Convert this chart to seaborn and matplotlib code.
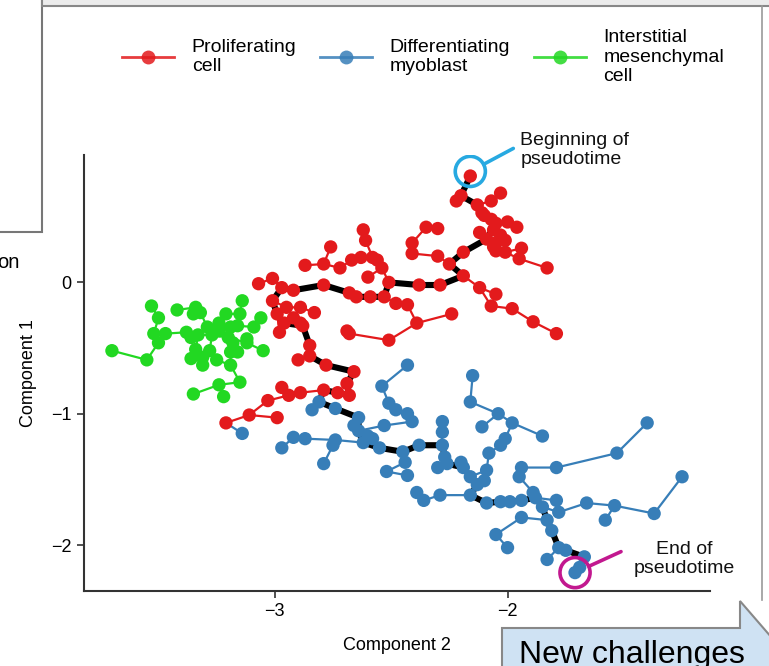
import pandas as pd
import seaborn as sns
import matplotlib.pyplot as plt
from matplotlib.lines import Line2D
from matplotlib.patches import Rectangle, Polygon

# main trajectory, from beginning to end of pseudotime
backbone_red = [(-2.16, 0.81), (-2.20, 0.66), (-2.13, 0.59), (-2.10, 0.51), (-2.05, 0.45),
                (-2.09, 0.33), (-2.19, 0.23), (-2.25, 0.14), (-2.19, 0.05), (-2.29, -0.02),
                (-2.38, -0.02), (-2.51, 0.00), (-2.53, -0.11), (-2.59, -0.11), (-2.65, -0.11),
                (-2.68, -0.08), (-2.79, -0.02), (-2.92, -0.06), (-2.97, -0.04), (-3.01, -0.14),
                (-2.99, -0.24), (-2.96, -0.31), (-2.88, -0.33), (-2.85, -0.48), (-2.85, -0.56),
                (-2.78, -0.63), (-2.66, -0.68), (-2.69, -0.77), (-2.68, -0.86), (-2.73, -0.84),
                (-2.79, -0.82)]
backbone_blue = [(-2.81, -0.91), (-2.74, -0.96), (-2.64, -1.03), (-2.64, -1.13), (-2.62, -1.22),
                 (-2.55, -1.26), (-2.45, -1.29), (-2.38, -1.24), (-2.28, -1.24), (-2.27, -1.33),
                 (-2.26, -1.38), (-2.19, -1.41), (-2.16, -1.48), (-2.13, -1.54), (-2.16, -1.62),
                 (-2.09, -1.68), (-2.03, -1.67), (-1.99, -1.67), (-1.94, -1.66), (-1.88, -1.64),
                 (-1.85, -1.71), (-1.83, -1.81), (-1.81, -1.89), (-1.78, -2.02), (-1.75, -2.04),
                 (-1.67, -2.09), (-1.69, -2.17), (-1.71, -2.21)]

# side branches of the tree, per cell type
red_branches = [
    [(-2.13, 0.59), (-2.07, 0.62), (-2.03, 0.68)],
    [(-2.05, 0.45), (-2.00, 0.46), (-1.96, 0.42)],
    [(-2.09, 0.33), (-2.12, 0.38)],
    [(-2.09, 0.33), (-2.05, 0.30), (-2.01, 0.32)],
    [(-2.09, 0.33), (-2.05, 0.24), (-2.01, 0.23), (-1.95, 0.18), (-1.83, 0.11)],
    [(-2.01, 0.23), (-1.94, 0.26)],
    [(-2.10, 0.51), (-2.07, 0.48), (-2.06, 0.40), (-2.03, 0.36)],
    [(-2.09, 0.33), (-2.06, 0.27)],
    [(-2.19, 0.05), (-2.12, -0.04), (-2.05, -0.09)],
    [(-2.12, -0.04), (-2.07, -0.18), (-1.98, -0.20), (-1.89, -0.30), (-1.79, -0.39)],
    [(-2.25, 0.14), (-2.30, 0.20), (-2.41, 0.22), (-2.41, 0.30), (-2.35, 0.42), (-2.30, 0.41)],
    [(-2.51, 0.00), (-2.54, 0.11), (-2.56, 0.17), (-2.58, 0.19), (-2.61, 0.32), (-2.62, 0.40)],
    [(-2.54, 0.11), (-2.60, 0.04)],
    [(-2.58, 0.19), (-2.63, 0.19), (-2.67, 0.17), (-2.72, 0.11), (-2.79, 0.14), (-2.87, 0.13)],
    [(-2.79, 0.14), (-2.76, 0.27)],
    [(-2.53, -0.11), (-2.48, -0.16), (-2.43, -0.17), (-2.39, -0.31), (-2.24, -0.24)],
    [(-2.39, -0.31), (-2.51, -0.44), (-2.68, -0.39), (-2.69, -0.37)],
    [(-2.97, -0.04), (-3.01, 0.03), (-3.07, -0.01)],
    [(-3.01, -0.14), (-2.95, -0.19), (-2.89, -0.19), (-2.83, -0.23)],
    [(-2.99, -0.24), (-2.98, -0.38)],
    [(-2.96, -0.31), (-2.92, -0.27), (-2.89, -0.31)],
    [(-2.85, -0.56), (-2.90, -0.59)],
    [(-2.79, -0.82), (-2.89, -0.84), (-2.94, -0.86), (-3.03, -0.90), (-3.11, -1.01), (-3.21, -1.07)],
    [(-2.94, -0.86), (-2.97, -0.80)],
    [(-3.11, -1.01), (-2.99, -1.03)],
    [(-2.20, 0.66), (-2.22, 0.62)],
    [(-2.13, 0.59), (-2.11, 0.53)],
]

blue_branches = [
    [(-2.62, -1.22), (-2.74, -1.20), (-2.87, -1.19), (-2.92, -1.18), (-2.97, -1.26)],
    [(-2.74, -1.20), (-2.75, -1.24), (-2.79, -1.38)],
    [(-2.64, -1.13), (-2.53, -1.09), (-2.41, -1.06), (-2.43, -1.00), (-2.48, -0.97),
     (-2.51, -0.92), (-2.54, -0.79), (-2.43, -0.63)],
    [(-2.45, -1.29), (-2.44, -1.37), (-2.52, -1.44)],
    [(-2.52, -1.44), (-2.43, -1.47)],
    [(-2.28, -1.24), (-2.28, -1.14), (-2.28, -1.06)],
    [(-2.16, -1.48), (-2.09, -1.43), (-2.08, -1.30), (-2.03, -1.24), (-2.01, -1.19),
     (-1.98, -1.07), (-2.04, -1.00), (-2.16, -0.91), (-2.15, -0.71)],
    [(-2.04, -1.00), (-2.11, -1.10)],
    [(-1.98, -1.07), (-1.85, -1.17)],
    [(-2.16, -1.62), (-2.29, -1.62), (-2.36, -1.66), (-2.39, -1.60)],
    [(-1.85, -1.71), (-1.78, -1.75), (-1.66, -1.68), (-1.54, -1.70), (-1.37, -1.76), (-1.25, -1.48)],
    [(-1.54, -1.70), (-1.58, -1.81)],
    [(-1.88, -1.64), (-1.79, -1.66)],
    [(-1.88, -1.64), (-1.89, -1.60), (-1.95, -1.48), (-1.94, -1.41), (-1.79, -1.41),
     (-1.53, -1.30), (-1.40, -1.07)],
    [(-1.83, -1.81), (-1.94, -1.79), (-2.05, -1.92), (-2.00, -2.02)],
    [(-1.78, -2.02), (-1.83, -2.11)],
    [(-2.64, -1.13), (-2.58, -1.19)],
    [(-2.64, -1.13), (-2.66, -1.09)],
    [(-2.62, -1.22), (-2.60, -1.17)],
    [(-2.81, -0.91), (-2.84, -0.97)],
    [(-3.21, -1.07), (-3.14, -1.15)],
    [(-2.26, -1.38), (-2.30, -1.41)],
    [(-2.19, -1.41), (-2.20, -1.37)],
    [(-2.13, -1.54), (-2.10, -1.51)],
]

green_branches = [
    [(-3.70, -0.52), (-3.55, -0.59), (-3.50, -0.46), (-3.47, -0.39)],
    [(-3.50, -0.46), (-3.52, -0.39), (-3.50, -0.27), (-3.53, -0.18)],
    [(-3.47, -0.39), (-3.38, -0.38), (-3.33, -0.40), (-3.27, -0.40), (-3.20, -0.42)],
    [(-3.42, -0.21), (-3.34, -0.19), (-3.32, -0.23), (-3.29, -0.34), (-3.27, -0.40)],
    [(-3.20, -0.42), (-3.24, -0.31), (-3.21, -0.24), (-3.15, -0.24), (-3.14, -0.14)],
    [(-3.20, -0.42), (-3.16, -0.33), (-3.09, -0.34), (-3.06, -0.27)],
    [(-3.20, -0.42), (-3.12, -0.46), (-3.05, -0.52)],
    [(-3.20, -0.42), (-3.18, -0.46), (-3.19, -0.53), (-3.19, -0.63), (-3.15, -0.76),
     (-3.24, -0.78), (-3.35, -0.85)],
    [(-3.24, -0.78), (-3.22, -0.87)],
    [(-3.33, -0.40), (-3.34, -0.51), (-3.36, -0.58)],
    [(-3.34, -0.51), (-3.31, -0.57), (-3.31, -0.63)],
    [(-3.27, -0.40), (-3.28, -0.52), (-3.25, -0.59), (-3.19, -0.63)],
    [(-3.18, -0.46), (-3.16, -0.53)],
    [(-3.33, -0.40), (-3.36, -0.42)],
    [(-3.32, -0.23), (-3.35, -0.24)],
    [(-3.20, -0.42), (-3.24, -0.37)],
    [(-3.20, -0.42), (-3.19, -0.34)],
    [(-3.12, -0.46), (-3.12, -0.43)],
]

cell_types = ["Proliferating\ncell", "Differentiating\nmyoblast", "Interstitial\nmesenchymal\ncell"]
palette = ["#E31A1C", "#377EB8", "#22D822"]


def branches_to_df(branches, cell):
    rows = []
    for i, br in enumerate(branches):
        for x, y in br:
            rows.append({"branch": f"{cell}_{i}", "x": x, "y": y, "cell": cell})
    return pd.DataFrame(rows)


edges = pd.concat([branches_to_df(red_branches, cell_types[0]),
                   branches_to_df(blue_branches, cell_types[1]),
                   branches_to_df(green_branches, cell_types[2])], ignore_index=True)
backbone = pd.DataFrame(backbone_red + backbone_blue, columns=["x", "y"])
cells = pd.concat([
    edges[["x", "y", "cell"]],
    pd.DataFrame([(x, y, cell_types[0]) for x, y in backbone_red], columns=["x", "y", "cell"]),
    pd.DataFrame([(x, y, cell_types[1]) for x, y in backbone_blue], columns=["x", "y", "cell"]),
]).drop_duplicates(subset=["x", "y"])

plt.rcParams["font.family"] = ["Liberation Sans", "DejaVu Sans"]
fig = plt.figure(figsize=(7.69, 6.66), dpi=100)
ax = fig.add_axes([84 / 769, 75 / 666, 626 / 769, 436 / 666])

pal = dict(zip(cell_types, palette))
sns.lineplot(data=edges, x="x", y="y", units="branch", hue="cell", palette=pal,
             estimator=None, sort=False, lw=1.6, legend=False, ax=ax, zorder=1)
sns.lineplot(data=backbone, x="x", y="y", estimator=None, sort=False, color="black",
             lw=4.4, legend=False, ax=ax, zorder=2)
sns.scatterplot(data=cells, x="x", y="y", hue="cell", palette=pal, s=92, linewidth=0,
                legend=False, ax=ax, zorder=3)

# start / end markers
sx, sy = backbone_red[0]
ex, ey = backbone_blue[-1]
ax.scatter([sx], [sy + 0.035], s=470, facecolors="none", edgecolors="#27A9E1", linewidths=2.6, zorder=4)
ax.scatter([ex], [ey], s=470, facecolors="none", edgecolors="#C2188F", linewidths=2.6, zorder=4)
ax.annotate("", xy=(sx, sy + 0.035), xytext=(43, 23), textcoords="offset pixels",
            arrowprops=dict(arrowstyle="-", color="#27A9E1", lw=2.6, shrinkA=0, shrinkB=11))
ax.annotate("Beginning of\npseudotime", xy=(sx, sy), xytext=(50, 26), textcoords="offset pixels",
            ha="left", va="center", fontsize=14, color="#111111", linespacing=1.15)
ax.annotate("", xy=(ex, ey), xytext=(46, 21), textcoords="offset pixels",
            arrowprops=dict(arrowstyle="-", color="#C2188F", lw=2.6, shrinkA=0, shrinkB=11))
ax.annotate("End of\npseudotime", xy=(ex, ey), xytext=(109, 14), textcoords="offset pixels",
            ha="center", va="center", fontsize=14, color="#111111", linespacing=1.15)

ax.set_xlim(-3.82, -1.13)
ax.set_ylim(-2.35, 0.97)
ax.set_xticks([-3, -2])
ax.set_yticks([0, -1, -2])
ax.set_xlabel("Component 2", fontsize=13, labelpad=12)
ax.set_ylabel("Component 1", fontsize=13, labelpad=10)
ax.tick_params(labelsize=13, length=5, width=1.2, color="#333333", pad=4)
for side in ["top", "right"]:
    ax.spines[side].set_visible(False)
for side in ["left", "bottom"]:
    ax.spines[side].set_linewidth(1.5)
    ax.spines[side].set_color("#333333")

handles = [Line2D([0], [0], color=c, alpha=0.85, lw=2, marker="o", markersize=10,
                  markerfacecolor=c, markeredgewidth=0) for c in palette]
fig.legend(handles, cell_types, loc="center", bbox_to_anchor=(423 / 769, 1 - 57 / 666),
           ncol=3, frameon=False, fontsize=14, handlelength=2.7, handletextpad=0.9,
           columnspacing=1.2)

# surrounding slide elements
fig.add_artist(Rectangle((-0.01, 1 - 232 / 666), 41.5 / 769 + 0.01, 232 / 666 + 0.01,
                         transform=fig.transFigure, facecolor="white", edgecolor="#777777", lw=1.5))
fig.add_artist(Rectangle((41.5 / 769, 1 - 6 / 666), 1, 0.02, transform=fig.transFigure,
                         facecolor="#ECECEC", edgecolor="#888888", lw=1.5))
fig.add_artist(Line2D([762 / 769, 762 / 769], [1 - 6 / 666, 1 - 600 / 666],
                      transform=fig.transFigure, color="#999999", lw=1.2))
fig.text(-3 / 769, 1 - 268 / 666, "on", fontsize=14.5, va="baseline")
callout = [(502, 670), (502, 628), (740, 628), (740, 601), (772, 638), (772, 670)]
fig.add_artist(Polygon([(px / 769, 1 - py / 666) for px, py in callout], closed=True,
                       transform=fig.transFigure, facecolor="#CFE2F3", edgecolor="#888888", lw=1.5))
fig.text(519 / 769, 1 - 663 / 666, "New challenges", fontsize=23, va="baseline")

fig.savefig("out.png", dpi=100)
